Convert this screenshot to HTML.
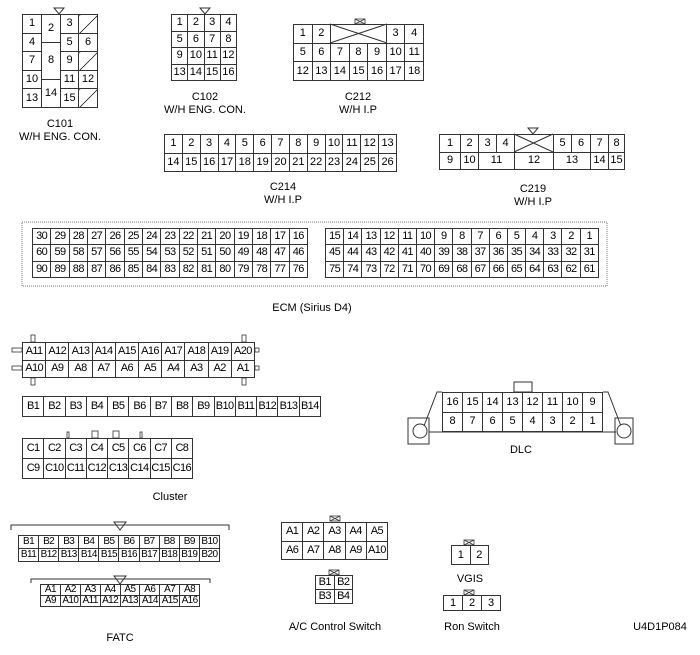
<!DOCTYPE html>
<html><head><meta charset="utf-8"><style>
body{margin:0;background:#fff;}
#w{position:relative;width:700px;height:655px;overflow:hidden;background:#fff;font-family:"Liberation Sans",sans-serif;color:#000;}
.t{position:absolute;border-collapse:collapse;table-layout:fixed;font-size:11px;line-height:1;}
.t td{border:1px solid #333;padding:0;text-align:center;overflow:hidden;white-space:nowrap;}
.s td{letter-spacing:-0.6px;}
.f{font-size:10px;}
.sl{background:linear-gradient(to bottom right,transparent calc(50% - .7px),#000 50%,transparent calc(50% + .7px));}
.l{position:absolute;font-size:11px;text-align:center;line-height:13px;white-space:nowrap;}
svg{position:absolute;left:0;top:0;}
</style></head><body><div id="w">

<table class="t" style="left:22px;top:14px;width:75px;height:93px">
<colgroup><col style="width:19px"><col style="width:19px"><col style="width:18px"><col style="width:19px"></colgroup>
<tr style="height:9.3px"><td rowspan="2">1</td><td rowspan="3">2</td><td rowspan="2">3</td><td rowspan="2" class="sl"></td></tr>
<tr style="height:9.3px"></tr>
<tr style="height:9.3px"><td rowspan="2">4</td><td rowspan="2">5</td><td rowspan="2">6</td></tr>
<tr style="height:9.3px"><td rowspan="4">8</td></tr>
<tr style="height:9.3px"><td rowspan="2">7</td><td rowspan="2">9</td><td rowspan="2" class="sl"></td></tr>
<tr style="height:9.3px"></tr>
<tr style="height:9.3px"><td rowspan="2">10</td><td rowspan="2">11</td><td rowspan="2">12</td></tr>
<tr style="height:9.3px"><td rowspan="3">14</td></tr>
<tr style="height:9.3px"><td rowspan="2">13</td><td rowspan="2">15</td><td rowspan="2" class="sl"></td></tr>
<tr style="height:9.3px"></tr>
</table>
<div class="l" style="left:0;width:120px;top:118px">C101<br>W/H ENG. CON.</div>

<table class="t" style="left:171px;top:14px;width:66px;height:67px">
<tr><td>1</td><td>2</td><td>3</td><td>4</td></tr>
<tr><td>5</td><td>6</td><td>7</td><td>8</td></tr>
<tr><td>9</td><td>10</td><td>11</td><td>12</td></tr>
<tr><td>13</td><td>14</td><td>15</td><td>16</td></tr>
</table>
<div class="l" style="left:145px;width:120px;top:91px">C102<br>W/H ENG. CON.</div>

<table class="t" style="left:293px;top:24px;width:131px;height:57px">
<tr><td>1</td><td>2</td><td colspan="3"></td><td>3</td><td>4</td></tr>
<tr><td>5</td><td>6</td><td>7</td><td>8</td><td>9</td><td>10</td><td>11</td></tr>
<tr><td>12</td><td>13</td><td>14</td><td>15</td><td>16</td><td>17</td><td>18</td></tr>
</table>
<div class="l" style="left:298px;width:120px;top:91px">C212<br>W/H I.P</div>

<table class="t" style="left:164px;top:134px;width:233px;height:38px">
<tr><td>1</td><td>2</td><td>3</td><td>4</td><td>5</td><td>6</td><td>7</td><td>8</td><td>9</td><td>10</td><td>11</td><td>12</td><td>13</td></tr>
<tr><td>14</td><td>15</td><td>16</td><td>17</td><td>18</td><td>19</td><td>20</td><td>21</td><td>22</td><td>23</td><td>24</td><td>25</td><td>26</td></tr>
</table>
<div class="l" style="left:223px;width:120px;top:181px">C214<br>W/H I.P</div>

<table class="t" style="left:439px;top:134px;width:185px;height:36px">
<colgroup><col style="width:21px"><col style="width:18px"><col style="width:18px"><col style="width:18px"><col style="width:39px"><col style="width:18px"><col style="width:19px"><col style="width:18px"><col style="width:16px"></colgroup>
<tr><td>1</td><td>2</td><td>3</td><td>4</td><td></td><td>5</td><td>6</td><td>7</td><td>8</td></tr>
<tr><td>9</td><td>10</td><td colspan="2">11</td><td>12</td><td colspan="2">13</td><td>14</td><td>15</td></tr>
</table>
<div class="l" style="left:473px;width:120px;top:183px">C219<br>W/H I.P</div>

<table class="t s" style="left:32px;top:228px;width:276px;height:50px">
<tr><td>30</td><td>29</td><td>28</td><td>27</td><td>26</td><td>25</td><td>24</td><td>23</td><td>22</td><td>21</td><td>20</td><td>19</td><td>18</td><td>17</td><td>16</td></tr>
<tr><td>60</td><td>59</td><td>58</td><td>57</td><td>56</td><td>55</td><td>54</td><td>53</td><td>52</td><td>51</td><td>50</td><td>49</td><td>48</td><td>47</td><td>46</td></tr>
<tr><td>90</td><td>89</td><td>88</td><td>87</td><td>86</td><td>85</td><td>84</td><td>83</td><td>82</td><td>81</td><td>80</td><td>79</td><td>78</td><td>77</td><td>76</td></tr>
</table>
<table class="t s" style="left:325px;top:228px;width:274px;height:50px">
<tr><td>15</td><td>14</td><td>13</td><td>12</td><td>11</td><td>10</td><td>9</td><td>8</td><td>7</td><td>6</td><td>5</td><td>4</td><td>3</td><td>2</td><td>1</td></tr>
<tr><td>45</td><td>44</td><td>43</td><td>42</td><td>41</td><td>40</td><td>39</td><td>38</td><td>37</td><td>36</td><td>35</td><td>34</td><td>33</td><td>32</td><td>31</td></tr>
<tr><td>75</td><td>74</td><td>73</td><td>72</td><td>71</td><td>70</td><td>69</td><td>68</td><td>67</td><td>66</td><td>65</td><td>64</td><td>63</td><td>62</td><td>61</td></tr>
</table>
<div class="l" style="left:252px;width:120px;top:302px">ECM (Sirius D4)</div>

<table class="t s" style="left:22px;top:342px;width:233px;height:36px">
<tr><td>A11</td><td>A12</td><td>A13</td><td>A14</td><td>A15</td><td>A16</td><td>A17</td><td>A18</td><td>A19</td><td>A20</td></tr>
<tr><td>A10</td><td>A9</td><td>A8</td><td>A7</td><td>A6</td><td>A5</td><td>A4</td><td>A3</td><td>A2</td><td>A1</td></tr>
</table>
<table class="t s" style="left:22px;top:396px;width:299px;height:21px">
<tr><td>B1</td><td>B2</td><td>B3</td><td>B4</td><td>B5</td><td>B6</td><td>B7</td><td>B8</td><td>B9</td><td>B10</td><td>B11</td><td>B12</td><td>B13</td><td>B14</td></tr>
</table>
<table class="t s" style="left:22px;top:438px;width:171px;height:41px">
<tr><td>C1</td><td>C2</td><td>C3</td><td>C4</td><td>C5</td><td>C6</td><td>C7</td><td>C8</td></tr>
<tr><td>C9</td><td>C10</td><td>C11</td><td>C12</td><td>C13</td><td>C14</td><td>C15</td><td>C16</td></tr>
</table>
<div class="l" style="left:110px;width:120px;top:491px">Cluster</div>

<table class="t s f" style="left:18px;top:535px;width:202px;height:27px">
<tr><td>B1</td><td>B2</td><td>B3</td><td>B4</td><td>B5</td><td>B6</td><td>B7</td><td>B8</td><td>B9</td><td>B10</td></tr>
<tr><td>B11</td><td>B12</td><td>B13</td><td>B14</td><td>B15</td><td>B16</td><td>B17</td><td>B18</td><td>B19</td><td>B20</td></tr>
</table>
<table class="t s f" style="left:40px;top:584px;width:160px;height:23px">
<tr><td>A1</td><td>A2</td><td>A3</td><td>A4</td><td>A5</td><td>A6</td><td>A7</td><td>A8</td></tr>
<tr><td>A9</td><td>A10</td><td>A11</td><td>A12</td><td>A13</td><td>A14</td><td>A15</td><td>A16</td></tr>
</table>
<div class="l" style="left:60px;width:120px;top:632px">FATC</div>

<table class="t s" style="left:281px;top:522px;width:107px;height:38px">
<tr><td>A1</td><td>A2</td><td>A3</td><td>A4</td><td>A5</td></tr>
<tr><td>A6</td><td>A7</td><td>A8</td><td>A9</td><td>A10</td></tr>
</table>
<table class="t s" style="left:315px;top:575px;width:38px;height:29px">
<tr><td>B1</td><td>B2</td></tr><tr><td>B3</td><td>B4</td></tr>
</table>
<div class="l" style="left:265px;width:140px;top:621px">A/C Control Switch</div>

<table class="t" style="left:442px;top:392px;width:161px;height:40px">
<tr><td>16</td><td>15</td><td>14</td><td>13</td><td>12</td><td>11</td><td>10</td><td>9</td></tr>
<tr><td>8</td><td>7</td><td>6</td><td>5</td><td>4</td><td>3</td><td>2</td><td>1</td></tr>
</table>
<div class="l" style="left:461px;width:120px;top:444px">DLC</div>

<table class="t" style="left:451px;top:545px;width:38px;height:20px">
<tr><td>1</td><td>2</td></tr>
</table>
<div class="l" style="left:410px;width:120px;top:573px">VGIS</div>
<table class="t" style="left:443px;top:595px;width:58px;height:16px">
<tr><td>1</td><td>2</td><td>3</td></tr>
</table>
<div class="l" style="left:412px;width:120px;top:621px">Ron Switch</div>
<div class="l" style="left:600px;width:120px;top:621px">U4D1P084</div>

<svg width="700" height="655" viewBox="0 0 700 655" fill="none" stroke="#333" stroke-width="1">
<path d="M54,8 L64,8 L59,14 Z"/>
<path d="M200,8 L210,8 L205,14 Z"/>
<path d="M528,128 L538,128 L533,134 Z"/>
<path d="M114,522 L126,522 L120,530 Z"/>
<path d="M114,576 L126,576 L120,584 Z"/>
<path d="M330,24 L387,43 M330,43 L387,24"/>
<path d="M514,134 L553,152 M514,152 L553,134"/>
<g stroke-width="0.8">
<rect x="355" y="19" width="10" height="5"/><path d="M355,19 L365,24 M355,24 L365,19"/>
<rect x="330" y="516" width="10" height="5"/><path d="M330,516 L340,521 M330,521 L340,516"/>
<rect x="329" y="570" width="10" height="5"/><path d="M329,570 L339,575 M329,575 L339,570"/>
<rect x="464" y="540" width="10" height="5"/><path d="M464,540 L474,545 M464,545 L474,540"/>
<rect x="464" y="590" width="10" height="5"/><path d="M464,590 L474,595 M464,595 L474,590"/>
</g>
<rect x="22" y="222" width="585" height="64" stroke="#777" stroke-dasharray="1,1"/>
<g stroke-width="0.8">
<rect x="31" y="335" width="4" height="7"/><rect x="242" y="335" width="4" height="7"/>
<rect x="31" y="378" width="4" height="7"/><rect x="242" y="378" width="4" height="7"/>
<rect x="12" y="348" width="10" height="4"/><rect x="12" y="366" width="10" height="4"/>
<rect x="255" y="348" width="4" height="4"/><rect x="255" y="366" width="4" height="4"/>
<rect x="67" y="432" width="2" height="6"/><rect x="92" y="431" width="6" height="7"/>
<rect x="113" y="431" width="6" height="7"/><rect x="140" y="432" width="2" height="6"/>
</g>
<path d="M11,530 L11,525 L229,525 L229,530"/>
<path d="M31,583 L31,579 L210,579 L210,583"/>
<rect x="514" y="382" width="18" height="10"/>
<path d="M442,392 L437,392 L424,426 M429,432 L616,432 M603,392 L608,392 L621,426"/>
<rect x="408" y="418" width="21" height="26"/>
<rect x="615" y="418" width="18" height="26"/>
<circle cx="420" cy="431" r="7" fill="#fff"/>
<circle cx="624" cy="431" r="7" fill="#fff"/>
</svg>
</div></body></html>
